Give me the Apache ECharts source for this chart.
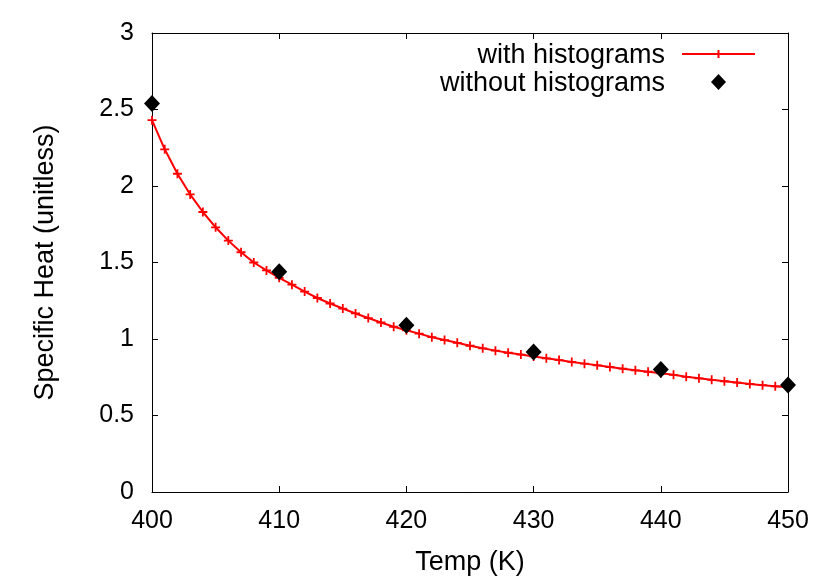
<!DOCTYPE html>
<html>
<head>
<meta charset="UTF-8">
<title>Specific Heat</title>
<script type="text/javascript" src="https://cdn.jsdelivr.net/npm/echarts@6/dist/echarts.min.js"></script>
</head>
<body style="margin:0;background:#fff">
	<div id="chartmain" style="width: 830px; height: 581px;"></div>
<script type="text/javascript">
	// temperatures (K) and specific heat with histograms, every 1 K
	var tempsFine = [];
	for (var t = 400; t <= 450; t++) tempsFine.push(t);
	var withHist = [2.43, 2.24, 2.08, 1.945, 1.83, 1.73, 1.643, 1.567, 1.50, 1.448,
		1.40, 1.355, 1.31, 1.268, 1.232, 1.199, 1.167, 1.137, 1.108, 1.08,
		1.057, 1.035, 1.012, 0.993, 0.975, 0.956, 0.939, 0.924, 0.91, 0.898,
		0.886, 0.874, 0.862, 0.85, 0.839, 0.828, 0.817, 0.806, 0.795, 0.786,
		0.776, 0.766, 0.753, 0.743, 0.733, 0.724, 0.715, 0.706, 0.698, 0.691, 0.684];
	// runs without histograms, every 10 K
	var tempsCoarse = [400, 410, 420, 430, 440, 450];
	var withoutHist = [2.54, 1.44, 1.09, 0.915, 0.80, 0.70];

	var font = '"Liberation Sans", Arial, Helvetica, sans-serif';
	var plus = 'path://M4,0H6V4H10V6H6V10H4V6H0V4H4Z';

	var myChart = echarts.init(document.getElementById('chartmain'));
	var axisCommon = {
		axisLine : { show : true, onZero : false, lineStyle : { color : '#000', width : 1 } },
		axisTick : { show : true, inside : true, length : 6, lineStyle : { color : '#000' } },
		splitLine : { show : false }
	};
	myChart.setOption({
		animation : false,
		backgroundColor : '#fff',
		grid : { left : 152, right : 42, top : 33, bottom : 89 },
		xAxis : [
			Object.assign({
				type : 'value', min : 400, max : 450, interval : 10, position : 'bottom',
				name : 'Temp (K)', nameLocation : 'middle', nameGap : 57,
				nameTextStyle : { fontFamily : font, fontSize : 27, color : '#000' },
				axisLabel : { fontFamily : font, fontSize : 25, color : '#000', margin : 17 }
			}, axisCommon),
			Object.assign({
				type : 'value', min : 400, max : 450, interval : 10, position : 'top',
				axisLabel : { show : false }
			}, axisCommon)
		],
		yAxis : [
			Object.assign({
				type : 'value', min : 0, max : 3, interval : 0.5, position : 'left',
				name : 'Specific Heat (unitless)', nameLocation : 'middle', nameGap : 93,
				nameTextStyle : { fontFamily : font, fontSize : 27, color : '#000' },
				axisLabel : { fontFamily : font, fontSize : 25, color : '#000', margin : 18 }
			}, axisCommon),
			Object.assign({
				type : 'value', min : 0, max : 3, interval : 0.5, position : 'right',
				axisLabel : { show : false }
			}, axisCommon)
		],
		series : [ {
			name : 'with histograms',
			type : 'line',
			data : tempsFine.map(function (x, i) { return [x, withHist[i]]; }),
			lineStyle : { color : '#ff0000', width : 2 },
			itemStyle : { color : '#ff0000' },
			symbol : plus,
			symbolSize : 9,
			z : 2
		}, {
			name : 'without histograms',
			type : 'scatter',
			data : tempsCoarse.map(function (x, i) { return [x, withoutHist[i]]; }),
			itemStyle : { color : '#000', opacity : 1 },
			symbol : 'diamond',
			symbolSize : [16, 17],
			z : 3
		} ],
		graphic : [
			{ type : 'text', x : 665, y : 56,
				style : { text : 'with histograms', font : '27px ' + font, fill : '#000',
					textAlign : 'right', textVerticalAlign : 'middle' } },
			{ type : 'line', shape : { x1 : 682, y1 : 54, x2 : 755, y2 : 54 },
				style : { stroke : '#ff0000', lineWidth : 2 } },
			{ type : 'line', shape : { x1 : 718.5, y1 : 50, x2 : 718.5, y2 : 58 },
				style : { stroke : '#ff0000', lineWidth : 2 } },
			{ type : 'text', x : 665, y : 84,
				style : { text : 'without histograms', font : '27px ' + font, fill : '#000',
					textAlign : 'right', textVerticalAlign : 'middle' } },
			{ type : 'polygon', shape : { points : [[718.5, 74], [726, 82], [718.5, 90], [711, 82]] },
				style : { fill : '#000' } }
		]
	});
</script>
</body>
</html>
